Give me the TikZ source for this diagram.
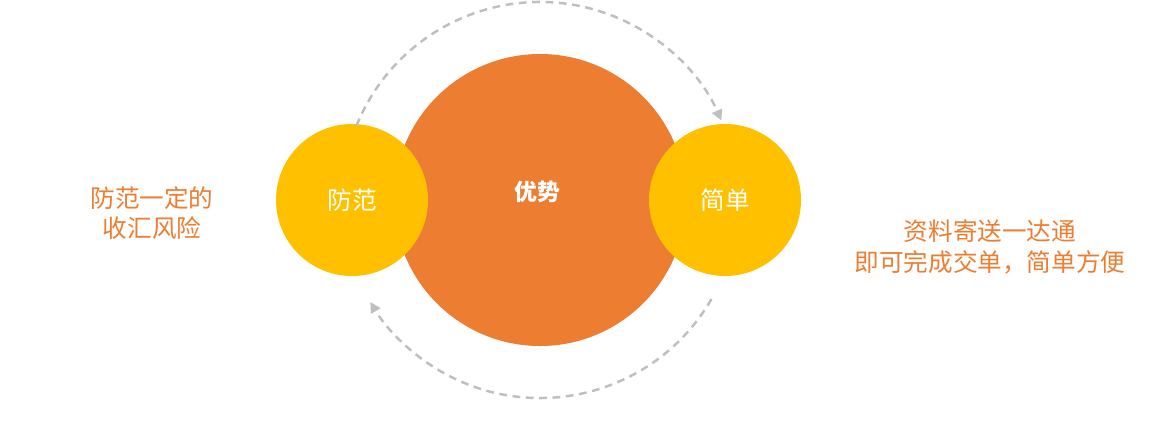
\documentclass[tikz,border=0pt]{standalone}
\usepackage{fontspec}
\setmainfont{Noto Sans CJK SC}
\usetikzlibrary{arrows.meta}
\definecolor{org}{HTML}{ED7D31}
\definecolor{yel}{HTML}{FFC000}
\definecolor{gry}{HTML}{BFBFBF}
\begin{document}
\begin{tikzpicture}[x=0.01cm,y=-0.01cm,
  dashline/.style={gry,line width=0.7pt,dash pattern=on 2.2pt off 1.6pt,-{Triangle[length=3pt,width=3pt]}},
  lbl/.style={text=org,font=\fontsize{7}{8.6}\selectfont,align=center}]
\useasboundingbox (0,0) rectangle (1168,430);
\coordinate (c) at (540,200);
\node[circle,fill=org,minimum size=292*0.01cm,inner sep=0] (big) at (540,200) {};
\node[text=white,font=\fontsize{6.5}{8}\selectfont\bfseries] (t) at (537,192) {优势};
\node[circle,fill=yel,minimum size=152*0.01cm,inner sep=0,text=white,font=\fontsize{7}{8}\selectfont] (l) at (352,200) {防范};
\node[circle,fill=yel,minimum size=152*0.01cm,inner sep=0,text=white,font=\fontsize{7}{8}\selectfont] (r) at (725,200) {简单};
\draw[dashline] ([shift={(-158:198)}]c) arc[start angle=-158,end angle=-23.7,radius=198];
\draw[dashline] ([shift={(30:198)}]c) arc[start angle=30,end angle=149,radius=198];
\node[lbl] (lt) at (152,213) {防范一定的\\收汇风险};
\node[lbl] (rt) at (990,247) {资料寄送一达通\\即可完成交单，简单方便};
\end{tikzpicture}
\end{document}
